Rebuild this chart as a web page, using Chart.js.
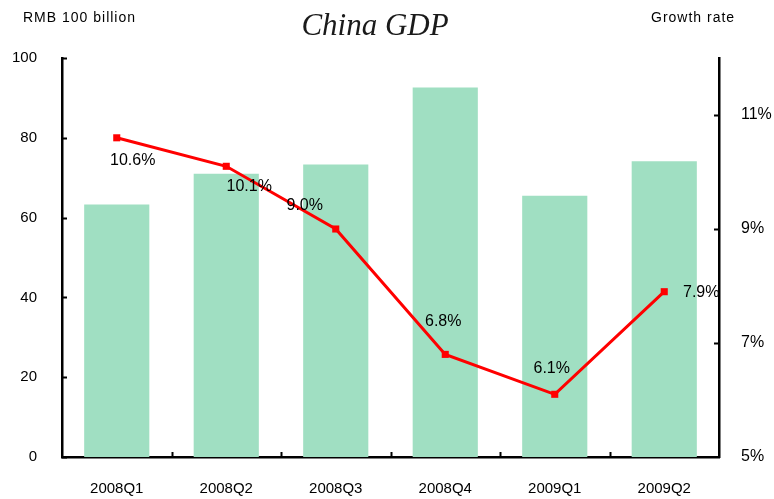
<!DOCTYPE html>
<html>
<head>
<meta charset="utf-8">
<script src="https://cdn.jsdelivr.net/npm/chart.js@4.4.1/dist/chart.umd.min.js"></script>
<style>
html,body{margin:0;padding:0;background:#fff;}
#wrap{width:774px;height:499px;position:relative;}
</style>
</head>
<body>
<div id="wrap"><canvas id="c" width="774" height="499"></canvas></div>
<script>
// ---- data ----
const categories = ['2008Q1','2008Q2','2008Q3','2008Q4','2009Q1','2009Q2'];
const gdpValues = [63.3, 71.0, 73.3, 92.6, 65.5, 74.1];
const growthValues = [10.6, 10.1, 9.0, 6.8, 6.1, 7.9];
const gdpTicks = [0, 20, 40, 60, 80, 100];
const growthTicks = [5, 7, 9, 11];
const growthLabels = ['10.6%', '10.1%', '9.0%', '6.8%', '6.1%', '7.9%'];

// ---- styling ----
const FONT = '"Liberation Sans", Arial, sans-serif';
const labelOffsets = [[16, 23], [23, 20], [-31, -23], [-2, -33], [-3, -26], [37, 1]];

const decorPlugin = {
  id: 'decor',
  afterDatasetsDraw(chart) {
    const ctx = chart.ctx;
    const ca = chart.chartArea;
    const xs = chart.scales.x, ys = chart.scales.y, y1 = chart.scales.y1;
    ctx.save();
    ctx.strokeStyle = '#000';
    ctx.lineWidth = 2;
    gdpTicks.forEach(v => {
      const py = Math.round(ys.getPixelForValue(v)) + 0.5;
      ctx.beginPath(); ctx.moveTo(ca.left, py); ctx.lineTo(ca.left + 5, py); ctx.stroke();
    });
    growthTicks.forEach(v => {
      if (v === growthTicks[0]) return;
      const py = Math.round(y1.getPixelForValue(v)) + 0.5;
      ctx.beginPath(); ctx.moveTo(ca.right, py); ctx.lineTo(ca.right - 5, py); ctx.stroke();
    });
    for (let i = 1; i < categories.length; i++) {
      const px = Math.round((xs.getPixelForValue(i - 1) + xs.getPixelForValue(i)) / 2) + 0.5;
      ctx.beginPath(); ctx.moveTo(px, ca.bottom); ctx.lineTo(px, ca.bottom - 5); ctx.stroke();
    }
    const meta = chart.getDatasetMeta(0);
    ctx.fillStyle = '#000';
    ctx.font = '16px ' + FONT;
    ctx.textAlign = 'center';
    ctx.textBaseline = 'middle';
    meta.data.forEach((pt, i) => {
      const off = labelOffsets[i];
      ctx.fillText(growthLabels[i], pt.x + off[0], pt.y + off[1]);
    });
    ctx.restore();
  },
  afterDraw(chart) {
    const ctx = chart.ctx;
    ctx.save();
    ctx.fillStyle = '#000';
    ctx.textBaseline = 'middle';
    ctx.font = '14px ' + FONT;
    try { ctx.letterSpacing = '1px'; } catch (e) {}
    ctx.textAlign = 'left';
    ctx.fillText('RMB 100 billion', 23, 18);
    ctx.fillText('Growth rate', 651, 18);
    try { ctx.letterSpacing = '0px'; } catch (e) {}
    ctx.font = 'italic 31px "Liberation Serif", "Times New Roman", serif';
    ctx.fillStyle = '#1a1a1a';
    ctx.textAlign = 'center';
    ctx.fillText('China GDP', 375, 27);
    ctx.restore();
  }
};

new Chart(document.getElementById('c'), {
  type: 'bar',
  data: {
    labels: categories,
    datasets: [
      {
        type: 'line',
        label: 'Growth rate',
        data: growthValues,
        yAxisID: 'y1',
        borderColor: '#ff0000',
        backgroundColor: '#ff0000',
        borderWidth: 3,
        pointStyle: 'rect',
        pointRadius: 5,
        pointBorderWidth: 0,
        pointBackgroundColor: '#ff0000',
        tension: 0,
        order: 1
      },
      {
        type: 'bar',
        label: 'GDP',
        data: gdpValues,
        yAxisID: 'y',
        backgroundColor: 'rgb(160,223,194)',
        categoryPercentage: 1,
        barPercentage: 0.595,
        order: 2
      }
    ]
  },
  options: {
    responsive: false,
    animation: false,
    devicePixelRatio: 1,
    layout: { padding: { top: 58, left: 0, right: 0, bottom: 0 } },
    plugins: { legend: { display: false }, tooltip: { enabled: false } },
    scales: {
      x: {
        grid: { display: false, drawTicks: false },
        border: { display: true, color: '#000', width: 2.5 },
        ticks: { color: '#000', font: { family: FONT, size: 15 }, padding: 23, maxRotation: 0 },
        afterFit(s) { s.height = 42; }
      },
      y: {
        position: 'left',
        min: 0, max: 100,
        grid: { display: false, drawTicks: false },
        border: { display: true, color: '#000', width: 2.5 },
        ticks: { color: '#000', font: { family: FONT, size: 15 }, padding: 25 },
        afterBuildTicks(s) { s.ticks = gdpTicks.map(v => ({ value: v })); },
        afterFit(s) { s.width = 62; }
      },
      y1: {
        position: 'right',
        min: 5, max: 12,
        grid: { display: false, drawTicks: false },
        border: { display: true, color: '#000', width: 2.5 },
        ticks: { color: '#000', font: { family: FONT, size: 16 }, padding: 22, callback: v => v + '%' },
        afterBuildTicks(s) { s.ticks = growthTicks.map(v => ({ value: v })); },
        afterFit(s) { s.width = 55; }
      }
    }
  },
  plugins: [decorPlugin]
});
</script>
</body>
</html>
